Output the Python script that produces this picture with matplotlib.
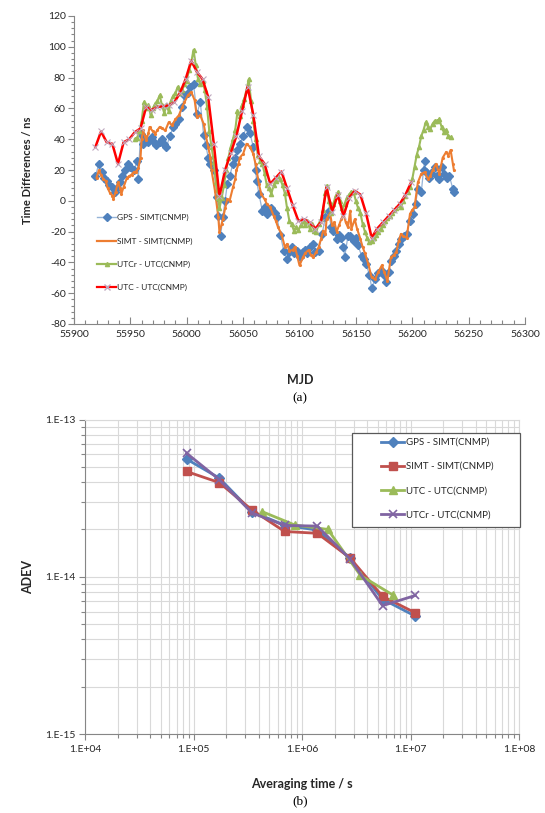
import matplotlib
matplotlib.use('Agg')
import matplotlib.pyplot as plt
from matplotlib.lines import Line2D
from matplotlib.patches import Rectangle
from matplotlib.ticker import MultipleLocator, FixedLocator, FuncFormatter, LogLocator, NullFormatter
import numpy as np

plt.rcParams['font.family'] = ['Lato', 'DejaVu Sans']
plt.rcParams['axes.unicode_minus'] = False

# ---------------- (a) time differences ----------------
gps_mjd = [55919, 55922, 55925, 55927, 55929, 55931, 55934, 55936, 55938, 55941, 55943, 55945, 55948, 55950,
           55953, 55956, 55957, 55959, 55961, 55963, 55966, 55969, 55971, 55973, 55976, 55978, 55980, 55982,
           55985, 55988, 55990, 55993, 55996, 55998, 56001, 56003, 56006, 56009, 56012, 56015, 56017, 56019,
           56021, 56024, 56027, 56028, 56030, 56032, 56034, 56036, 56038, 56041, 56043, 56045, 56047, 56050,
           56053, 56056, 56059, 56061, 56062, 56064, 56067, 56069, 56071, 56073, 56075, 56078, 56080, 56083,
           56086, 56089, 56091, 56093, 56095, 56098, 56100, 56103, 56105, 56107, 56109, 56112, 56114, 56117,
           56120, 56123, 56126, 56128, 56130, 56133, 56135, 56137, 56139, 56140, 56143, 56145, 56148, 56150,
           56152, 56155, 56157, 56159, 56162, 56164, 56167, 56170, 56173, 56175, 56177, 56179, 56181, 56184,
           56186, 56188, 56190, 56193, 56195, 56198, 56201, 56203, 56205, 56208, 56210, 56211, 56212, 56215,
           56217, 56220, 56222, 56224, 56226, 56228, 56231, 56233, 56236, 56237]
gps_val = [16, 24, 19, 15, 13, 10, 8.8, 5.5, 8, 12, 16, 19.7, 24, 22,
           19.7, 26, 14, 43.6, 37, 40, 38, 41.4, 38, 36, 38, 40, 37, 35,
           42, 48, 50, 53, 61, 68.5, 70, 74, 76, 56.6, 64, 42.5, 36, 28,
           24, 19.7, 2.3, -10, -22.7, -10.7, 0, 11, 16, 24, 28, 33, 37, 42,
           48, 44, 35, 20, 13, 4.5, -6.4, -4, -8.5, -6, -5, -8, -10.7, -22,
           -32.4, -37.8, -33, -30, -34, -32.4, -36.8, -33, -32, -34, -30, -28, -33, -32.4,
           -21.5, -10.7, -6.4, -17.3, -19.4, -24.8, -22, -24, -30, -36.8, -22.7, -23, -26, -24,
           -29, -35.7, -38, -41, -48, -56.3, -51, -47, -45.5, -48, -53, -46, -39, -36,
           -32.4, -28, -24.8, -23, -21.5, -13, -8.5, -2, 7.7, 5.5, 20, 26, 18.6, 15,
           18, 21.8, 16, 14, 21.8, 17.5, 15, 16, 7.7, 5.5]

simt_mjd = [55920, 55922, 55924, 55926, 55928, 55930, 55932, 55934, 55935, 55937, 55939, 55941, 55942, 55944,
            55947, 55949, 55951, 55953, 55955, 55957, 55959, 55960, 55961, 55963, 55964, 55966, 55967, 55970,
            55972, 55974, 55976, 55978, 55981, 55984, 55987, 55990, 55993, 55996, 55998, 56001, 56004, 56007,
            56009, 56012, 56015, 56017, 56019, 56021, 56022, 56025, 56028, 56029, 56031, 56032, 56034, 56036,
            56038, 56041, 56043, 56044, 56046, 56047, 56050, 56053, 56056, 56059, 56061, 56064, 56066, 56069,
            56071, 56074, 56077, 56079, 56081, 56084, 56087, 56089, 56091, 56094, 56096, 56098, 56100, 56103,
            56105, 56108, 56110, 56112, 56115, 56117, 56119, 56121, 56123, 56124, 56127, 56129, 56131, 56133,
            56135, 56137, 56139, 56141, 56143, 56145, 56146, 56149, 56151, 56154, 56156, 56158, 56161, 56164,
            56167, 56170, 56173, 56175, 56178, 56181, 56184, 56186, 56188, 56190, 56192, 56195, 56198, 56200,
            56202, 56205, 56208, 56211, 56214, 56216, 56218, 56221, 56224, 56227, 56230, 56232, 56234, 56236,
            56237]
simt_val = [15, 19.7, 17, 14, 13, 8, 5, 3.4, 1.2, 6, 12, 8, 4.5, 9,
            15, 16, 17, 18.6, 19, 21, 28, 40, 45.7, 42, 39.2, 44, 47.9, 45,
            43.6, 46, 48, 47, 45.7, 51, 49, 53, 55.5, 61, 64, 68.5, 70.7, 65.3,
            54.4, 55.5, 50, 42, 35, 28, 19.7, 6.6, -10.7, -20.5, -15, -12, -5, 1.2,
            0, 8.8, 14, 19.7, 24, 28, 30.5, 37, 35, 30.5, 24, 11, 4.5, 1,
            -2, -4, -9.6, -13, -17.3, -21.5, -30, -28, -32.4, -32, -30, -36, -42, -36.8,
            -34, -32, -35, -36.8, -33, -30, -25, -19.4, -21.5, -11.8, -8, -16, -14, -20,
            -16, -12, -8.5, -14, -17.3, -6.4, -18.3, -12, -18, -24.8, -30, -34, -41, -49.8,
            -51, -46, -42, -46, -52, -36.8, -35, -33, -26, -21.5, -23, -24, -8.5, -6,
            -4.2, 12, 17.5, 18.6, 14, 16, 19.7, 24, 17.5, 28, 31.6, 29.4, 33, 24,
            19.7]

utcr_mjd = [55954, 55956, 55958, 55960, 55962, 55964, 55966, 55968, 55970, 55972, 55974, 55976, 55978, 55980,
            55982, 55984, 55986, 55988, 55990, 55992, 55994, 55996, 55998, 56000, 56002, 56004, 56006, 56008,
            56010, 56012, 56014, 56016, 56018, 56020, 56022, 56024, 56026, 56028, 56029, 56031, 56033, 56035,
            56037, 56039, 56041, 56043, 56045, 56047, 56049, 56051, 56053, 56055, 56057, 56059, 56061, 56063,
            56065, 56067, 56069, 56071, 56073, 56075, 56077, 56079, 56081, 56083, 56085, 56087, 56089, 56091,
            56093, 56095, 56097, 56099, 56101, 56103, 56105, 56107, 56109, 56111, 56113, 56115, 56117, 56119,
            56121, 56123, 56124, 56126, 56128, 56130, 56132, 56134, 56136, 56138, 56140, 56142, 56144, 56146,
            56148, 56150, 56152, 56154, 56156, 56158, 56160, 56162, 56164, 56166, 56168, 56170, 56172, 56174,
            56176, 56178, 56180, 56182, 56184, 56186, 56188, 56190, 56192, 56194, 56196, 56198, 56200, 56202,
            56204, 56206, 56208, 56210, 56212, 56214, 56216, 56218, 56220, 56222, 56224, 56226, 56228, 56230,
            56232, 56234]
utcr_val = [40, 41, 45, 52, 64, 60, 62, 55.5, 60, 63, 65, 68.5, 62, 57,
            62, 58, 65, 68, 70, 74, 70, 72, 76, 78, 85, 90, 98, 88,
            79, 76, 78, 72, 61, 45, 35, 25, 12, 2, -5, 2, 10, 20,
            28, 35, 40, 46, 58, 55, 62, 66, 72, 79, 65, 52, 40, 30,
            26, 24, 18, 10, 8, 4.5, 10, 13, 16, 14, 10, 5, -5, -13,
            -15, -19.4, -17, -19, -16, -13, -16, -13, -18, -15, -19.4, -20, -15, -12,
            -6, 5, 9.9, 0, -8, -2, 3, 5.5, 0, -5, -2, 2, 4, 6,
            5.5, 0, -5, -8, -15, -20, -24, -27, -26, -24, -22, -20, -18.3, -16,
            -13, -11, -10, -8, -6, -5, -3, -4, 0, 3, 6, 8.8, 14, 22,
            30, 35, 42, 46, 51, 48, 46.8, 50, 52, 52, 53, 48, 44.6, 46,
            42, 41.4]

utc_mjd = [55919, 55924, 55929, 55934, 55939, 55944, 55949, 55954, 55959, 55964, 55969, 55974, 55979, 55984,
           55989, 55994, 55999, 56004, 56009, 56014, 56019, 56024, 56029, 56034, 56039, 56044, 56049, 56054,
           56059, 56064, 56069, 56074, 56079, 56084, 56089, 56094, 56099, 56104, 56109, 56114, 56119, 56124,
           56129, 56134, 56139, 56144, 56149, 56154, 56159, 56164, 56169, 56174, 56179, 56184, 56189, 56194,
           56199]
utc_val = [35, 45, 38, 37, 24, 38, 40, 44.6, 47, 61, 59, 61, 61.4, 62,
           64, 70, 79, 91, 83.7, 79, 67.4, 37, 3, 20, 31, 42, 58, 74,
           56, 29, 24, 11, 15, 19, 8, -3, -13, -12, -14, -18, -14, 8.8,
           -7, 4, -10, 2, 6.5, 4, -8, -24, -18, -14, -10, -6, -2, 4,
           12]

series_a = ["GPS - SIMT(CNMP)", "SIMT - SIMT(CNMP)", "UTCr - UTC(CNMP)", "UTC - UTC(CNMP)"]

# ---------------- (b) ADEV ----------------
tau = [86400, 172800, 345600, 691200, 1382400, 2764800, 5529600, 11059200]
tau_utc = [432000, 864000, 1728000, 3456000, 6912000]
adev_gps = [5.6e-14, 4.24e-14, 2.59e-14, 2.13e-14, 1.98e-14, 1.31e-14, 7.2e-15, 5.62e-15]
adev_simt = [4.67e-14, 3.97e-14, 2.66e-14, 1.94e-14, 1.89e-14, 1.32e-14, 7.5e-15, 5.9e-15]
adev_utc = [2.59e-14, 2.13e-14, 2.0e-14, 1.02e-14, 7.64e-15]
adev_utcr = [6.1e-14, 4.15e-14, 2.55e-14, 2.12e-14, 2.1e-14, 1.3e-14, 6.55e-15, 7.6e-15]
series_b = ["GPS - SIMT(CNMP)", "SIMT - SIMT(CNMP)", "UTC - UTC(CNMP)", "UTCr - UTC(CNMP)"]

W, H = 545, 813
fig = plt.figure(figsize=(W / 100, H / 100), dpi=100)


def rect(l, t, r, b):
    return [l / W, 1 - b / H, (r - l) / W, (b - t) / H]


TXT = '#262626'
AXC = '#868686'

# ---- top chart ----
ax1 = fig.add_axes(rect(74, 16, 525, 324))
c_gps, c_gps_l = '#4F81BD', '#95B3D7'
c_simt = '#ED7D31'
c_utcr = '#9BBB59'
c_utc = '#FF0000'
c_x = '#BFA8BF'
ax1.plot(gps_mjd, gps_val, color=c_gps_l, lw=0.9, zorder=2)
ax1.plot(gps_mjd, gps_val, ls='none', marker='D', ms=4, color=c_gps, zorder=2)
ax1.plot(simt_mjd, simt_val, color=c_simt, lw=1.5, marker='.', ms=2.5, zorder=3)
ax1.plot(utcr_mjd, utcr_val, color=c_utcr, lw=1.5, marker='^', ms=3, zorder=4)
ax1.plot(utc_mjd, utc_val, color=c_utc, lw=1.8, zorder=5)
ax1.plot(utc_mjd, utc_val, ls='none', marker='x', ms=4, mew=0.8, color=c_x, zorder=6)

ax1.set_xlim(55900, 56300)
ax1.set_ylim(-80, 120)
ax1.xaxis.set_major_locator(MultipleLocator(50))
ax1.xaxis.set_minor_locator(FixedLocator([v for v in range(55900, 56301, 10) if v % 50]))
ax1.yaxis.set_major_locator(MultipleLocator(20))
ax1.yaxis.set_minor_locator(FixedLocator([v for v in range(-80, 121, 4) if v % 20]))
for s in ['top', 'right']:
    ax1.spines[s].set_visible(False)
for s in ['left', 'bottom']:
    ax1.spines[s].set_color(AXC)
    ax1.spines[s].set_linewidth(0.8)
ax1.tick_params(axis='x', which='major', direction='in', length=5, width=0.8, color=AXC,
                labelsize=7.5, labelcolor=TXT, pad=4)
ax1.tick_params(axis='x', which='minor', direction='in', length=3, width=0.8, color=AXC)
ax1.tick_params(axis='y', which='major', direction='out', length=4, width=0.8, color=AXC,
                labelsize=7.5, labelcolor=TXT, pad=2)
ax1.tick_params(axis='y', which='minor', direction='out', length=2.5, width=0.8, color=AXC)

h_a = [Line2D([], [], color=c_gps_l, lw=1, marker='D', mfc=c_gps, mec=c_gps, ms=4),
       Line2D([], [], color=c_simt, lw=1.6),
       Line2D([], [], color=c_utcr, lw=1.6, marker='^', ms=3),
       Line2D([], [], color=c_utc, lw=1.6, marker='x', mec=c_x, ms=4)]
fig.legend(h_a, series_a, loc='upper left', bbox_to_anchor=(97 / W, 1 - 214 / H),
           bbox_transform=fig.transFigure, frameon=False, fontsize=6, handlelength=2.3,
           handletextpad=0.1, labelspacing=1.95, borderpad=0, borderaxespad=0, labelcolor=TXT)

fig.text(28 / W, 1 - 170 / H, 'Time Differences / ns', rotation=90, ha='center', va='center',
         fontsize=8, fontweight='bold', color=TXT)
fig.text(300 / W, 1 - 380 / H, 'MJD', ha='center', va='center', fontsize=9, fontweight='bold', color=TXT)
fig.text(300 / W, 1 - 398 / H, '(a)', ha='center', va='center', fontsize=9.5,
         family=['Liberation Serif', 'DejaVu Serif'], color='black')

# ---- bottom chart ----
ax2 = fig.add_axes(rect(85, 419.5, 519, 734))
ax2.set_xscale('log')
ax2.set_yscale('log')
ax2.set_xlim(1e4, 1e8)
ax2.set_ylim(1e-15, 1e-13)
ax2.grid(True, which='both', color='#D9D9D9', lw=0.8)
ax2.set_axisbelow(True)
ax2.xaxis.set_major_locator(LogLocator(base=10, numticks=10))
ax2.xaxis.set_minor_locator(LogLocator(base=10, subs=np.arange(2, 10), numticks=50))
ax2.yaxis.set_major_locator(LogLocator(base=10, numticks=10))
ax2.yaxis.set_minor_locator(LogLocator(base=10, subs=np.arange(2, 10), numticks=50))
fmt = FuncFormatter(lambda v, _: '1.E%+03d' % int(round(np.log10(v))))
ax2.xaxis.set_major_formatter(fmt)
ax2.yaxis.set_major_formatter(fmt)
ax2.xaxis.set_minor_formatter(NullFormatter())
ax2.yaxis.set_minor_formatter(NullFormatter())
for s in ['top', 'right']:
    ax2.spines[s].set_color('#D9D9D9')
for s in ['left', 'bottom']:
    ax2.spines[s].set_color(AXC)
    ax2.spines[s].set_linewidth(0.8)
ax2.tick_params(which='major', direction='out', length=4, width=0.8, color=AXC,
                labelsize=7.5, labelcolor=TXT)
ax2.tick_params(which='minor', direction='out', length=3, width=0.8, color=AXC)
ax2.tick_params(axis='x', pad=4)
ax2.tick_params(axis='y', pad=3)

b_gps, b_simt, b_utc, b_utcr = '#4F81BD', '#C0504D', '#9BBB59', '#8064A2'
ax2.plot(tau, adev_gps, color=b_gps, lw=2, marker='D', ms=5, zorder=3)
ax2.plot(tau, adev_simt, color=b_simt, lw=2, marker='s', ms=6, zorder=4)
ax2.plot(tau_utc, adev_utc, color=b_utc, lw=2, marker='^', ms=6, zorder=5)
ax2.plot(tau, adev_utcr, color=b_utcr, lw=2, marker='x', ms=6, mew=1.2, zorder=6)

fig.patches.append(Rectangle((352 / W, 1 - 527 / H), 168 / W, 94 / H, transform=fig.transFigure,
                             fc='white', ec='#595959', lw=0.9, zorder=3))
h_b = [Line2D([], [], color=b_gps, lw=2, marker='D', ms=5),
       Line2D([], [], color=b_simt, lw=2, marker='s', ms=6),
       Line2D([], [], color=b_utc, lw=2, marker='^', ms=6),
       Line2D([], [], color=b_utcr, lw=2, marker='x', ms=6, mew=1.2)]
lg = fig.legend(h_b, series_b, loc='upper left', bbox_to_anchor=(381 / W, 1 - 438 / H),
                bbox_transform=fig.transFigure, frameon=False, fontsize=7, handlelength=2.4,
                handletextpad=0.15, labelspacing=1.55, borderpad=0, borderaxespad=0, labelcolor=TXT)
lg.set_zorder(4)

fig.text(28 / W, 1 - 577 / H, 'ADEV', rotation=90, ha='center', va='center',
         fontsize=9, fontweight='bold', color=TXT)
fig.text(302 / W, 1 - 784 / H, 'Averaging time / s', ha='center', va='center', fontsize=9,
         fontweight='bold', color=TXT)
fig.text(300 / W, 1 - 801 / H, '(b)', ha='center', va='center', fontsize=9.5,
         family=['Liberation Serif', 'DejaVu Serif'], color='black')

fig.savefig('out.png', dpi=100)
